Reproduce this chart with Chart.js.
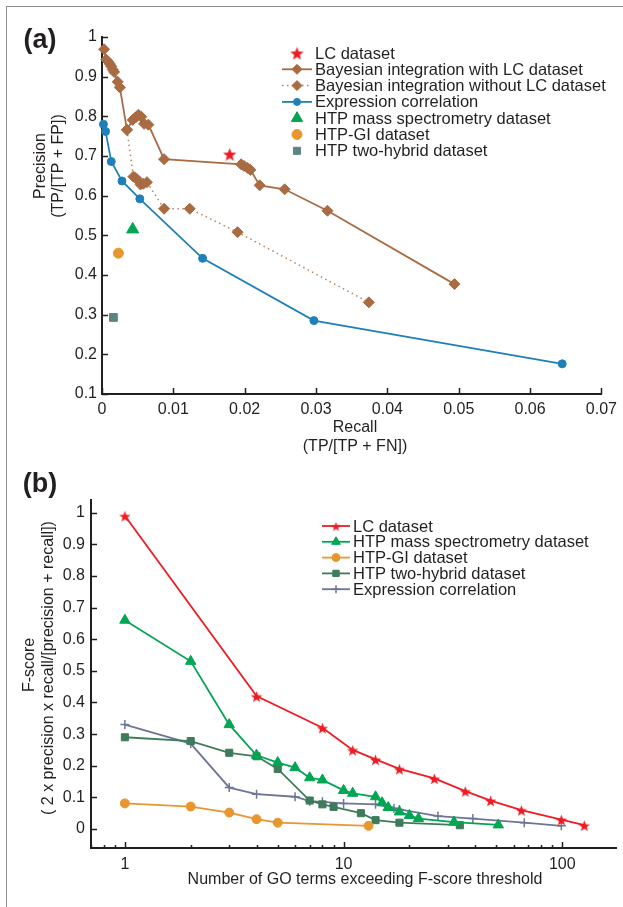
<!DOCTYPE html>
<html>
<head>
<meta charset="utf-8">
<script src="https://cdn.jsdelivr.net/npm/chart.js@4.4.1/dist/chart.umd.min.js"></script>
<style>
  html, body { margin: 0; padding: 0; background: #fff; }
  #wrap { position: relative; width: 623px; height: 907px; overflow: hidden; }
  #frame { position: absolute; left: 6px; top: 6px; width: 700px; height: 1000px;
           border-left: 1.5px solid #8c8c8c; border-top: 1.5px solid #8c8c8c; }
  canvas { position: absolute; left: 0; }
</style>
</head>
<body>
<div id="wrap">
  <div id="frame"></div>
  <canvas id="chartA" width="623" height="455" style="top:0"></canvas>
  <canvas id="chartB" width="623" height="452" style="top:455px"></canvas>
</div>
<script>
// ---- panel (a): precision vs recall ----
const recallTicks = [0, 0.01, 0.02, 0.03, 0.04, 0.05, 0.06, 0.07];
const precisionTicks = [0.1, 0.2, 0.3, 0.4, 0.5, 0.6, 0.7, 0.8, 0.9, 1];

const lcRecall = [0.0179];
const lcPrecision = [0.705];
const bayesLcRecall = [0.0003, 0.0006, 0.0009, 0.0011, 0.0013, 0.0015, 0.0017, 0.0022, 0.0025, 0.0035,
  0.0043, 0.0047, 0.0051, 0.0055, 0.0059, 0.0065, 0.0087, 0.0195, 0.0199, 0.0204, 0.0208, 0.0221,
  0.0256, 0.0316, 0.0494];
const bayesLcPrecision = [0.969, 0.943, 0.937, 0.932, 0.926, 0.918, 0.912, 0.887, 0.873, 0.766,
  0.791, 0.797, 0.804, 0.799, 0.781, 0.779, 0.692, 0.679, 0.675, 0.670, 0.665, 0.626,
  0.616, 0.562, 0.377];
const bayesNoLcRecall = [0.0035, 0.0044, 0.0047, 0.0051, 0.0054, 0.0058, 0.0063, 0.0087, 0.0123, 0.019, 0.0374];
const bayesNoLcPrecision = [0.766, 0.648, 0.645, 0.638, 0.628, 0.630, 0.634, 0.567, 0.567, 0.508, 0.331];
const exprRecall = [0.0002, 0.0005, 0.0013, 0.0028, 0.0053, 0.0141, 0.0297, 0.0645];
const exprPrecision = [0.780, 0.762, 0.686, 0.637, 0.592, 0.442, 0.285, 0.176];
const msRecall = [0.0043];
const msPrecision = [0.515];
const giRecall = [0.0023];
const giPrecision = [0.455];
const y2hRecall = [0.0016];
const y2hPrecision = [0.293];

// ---- panel (b): F-score vs number of GO terms ----
const goTermTicks = [1, 10, 100];
const fScoreTicks = [0, 0.1, 0.2, 0.3, 0.4, 0.5, 0.6, 0.7, 0.8, 0.9, 1];

const lcTerms = [1, 4, 8, 11, 14, 18, 26, 36, 47, 65, 99, 126];
const lcFscore = [0.99, 0.42, 0.32, 0.25, 0.22, 0.19, 0.16, 0.12, 0.09, 0.06, 0.03, 0.012];
const msTerms = [1, 2, 3, 4, 5, 6, 7, 8, 10, 11, 14, 15, 16, 18, 20, 22, 32, 51];
const msFscore = [0.66, 0.53, 0.33, 0.233, 0.21, 0.194, 0.162, 0.155, 0.122, 0.113, 0.102, 0.083,
  0.068, 0.054, 0.043, 0.033, 0.022, 0.013];
const giTerms = [1, 2, 3, 4, 5, 13];
const giFscore = [0.081, 0.071, 0.052, 0.031, 0.02, 0.01];
const y2hTerms = [1, 2, 3, 4, 5, 7, 8, 9, 12, 14, 18, 34];
const y2hFscore = [0.29, 0.278, 0.241, 0.23, 0.19, 0.09, 0.078, 0.07, 0.05, 0.028, 0.02, 0.012];
const exprTerms = [1, 2, 3, 4, 6, 7, 8, 10, 14, 16, 17, 18, 27, 39, 67, 99];
const exprFscore = [0.33, 0.27, 0.131, 0.11, 0.102, 0.088, 0.086, 0.081, 0.078, 0.07, 0.066, 0.062,
  0.041, 0.033, 0.02, 0.01];

const axisColor = '#231f20';
const brown = '#a86b42';
const blue = '#1f80b8';
const red = '#ed1c24';
const green = '#00a651';
const orange = '#e8962e';

Chart.defaults.font.family = '"Liberation Sans", Arial, Helvetica, sans-serif';
Chart.defaults.font.size = 16;
Chart.defaults.color = axisColor;

function pairs(xs, ys) {
  return xs.map((x, i) => ({ x: x, y: ys[i] }));
}

function fmt(v) {
  return String(+v.toFixed(3));
}

// filled five point star, used as a point image
function starImage(size, color) {
  const c = document.createElement('canvas');
  c.width = size;
  c.height = size;
  const g = c.getContext('2d');
  const R = size / 2 - 0.5, r = R * 0.42;
  g.beginPath();
  for (let i = 0; i < 10; i++) {
    const rad = i % 2 ? r : R;
    const a = -Math.PI / 2 + i * Math.PI / 5;
    g.lineTo(size / 2 + rad * Math.cos(a), size / 2 + 1 + rad * Math.sin(a));
  }
  g.closePath();
  g.fillStyle = color;
  g.fill();
  return c;
}

// ticks that point into the plot, like the original figure
const inwardTicks = {
  id: 'inwardTicks',
  afterDraw(chart) {
    const { ctx, chartArea: a, scales } = chart;
    ctx.save();
    ctx.strokeStyle = axisColor;
    ctx.lineWidth = 1.5;
    ctx.beginPath();
    scales.x.ticks.forEach(t => {
      const px = Math.round(scales.x.getPixelForValue(t.value)) + 0.5;
      if (px < a.left - 1 || px > a.right + 1) return;
      const len = t.minor ? 3 : 6;
      ctx.moveTo(px, a.bottom);
      ctx.lineTo(px, a.bottom - len);
    });
    scales.y.ticks.forEach(t => {
      const py = Math.round(scales.y.getPixelForValue(t.value)) + 0.5;
      ctx.moveTo(a.left, py);
      ctx.lineTo(a.left + 6, py);
    });
    ctx.stroke();
    ctx.restore();
  }
};

// free text: panel letters and axis titles
const panelText = {
  id: 'panelText',
  afterDraw(chart, args, opts) {
    const ctx = chart.ctx;
    (opts.items || []).forEach(it => {
      ctx.save();
      ctx.font = it.font || '16px "Liberation Sans", Arial, sans-serif';
      ctx.fillStyle = axisColor;
      ctx.textAlign = 'center';
      ctx.textBaseline = 'middle';
      ctx.translate(it.x, it.y);
      if (it.rotate) ctx.rotate(-Math.PI / 2);
      ctx.fillText(it.text, 0, 0);
      ctx.restore();
    });
  }
};

// legend with a short line and the marker, drawn inside the plot
const lineLegend = {
  id: 'lineLegend',
  afterDraw(chart, args, opts) {
    const ctx = chart.ctx;
    chart.data.datasets.forEach((ds, i) => {
      const y = opts.y + i * opts.step;
      ctx.save();
      if (ds.showLine) {
        ctx.strokeStyle = ds.borderColor;
        ctx.lineWidth = ds.borderWidth;
        ctx.setLineDash(ds.borderDash || []);
        ctx.beginPath();
        ctx.moveTo(opts.x0, y);
        ctx.lineTo(opts.x1, y);
        ctx.stroke();
        ctx.setLineDash([]);
      }
      const mx = (opts.x0 + opts.x1) / 2;
      const style = ds.legendPointStyle || ds.pointStyle;
      if (style instanceof HTMLCanvasElement) {
        ctx.drawImage(style, mx - style.width / 2, y - style.height / 2);
      } else {
        ctx.fillStyle = ds.pointBackgroundColor;
        ctx.strokeStyle = ds.pointBorderColor;
        ctx.lineWidth = ds.pointBorderWidth || 1;
        Chart.helpers.drawPoint(ctx, {
          pointStyle: style,
          radius: ds.legendRadius || ds.pointRadius,
          rotation: 0,
          borderWidth: ds.pointBorderWidth || 1
        }, mx, y);
      }
      ctx.fillStyle = axisColor;
      ctx.font = opts.font;
      ctx.textAlign = 'left';
      ctx.textBaseline = 'middle';
      ctx.fillText(ds.label, opts.x1 + 3, y + 1);
      ctx.restore();
    });
  }
};

function series(label, data, color, style, radius, extra) {
  return Object.assign({
    label: label,
    data: data,
    borderColor: color,
    backgroundColor: color,
    pointBackgroundColor: color,
    pointBorderColor: color,
    pointBorderWidth: 1,
    pointStyle: style,
    pointRadius: radius,
    borderWidth: 1.8,
    showLine: true,
    clip: false
  }, extra || {});
}

function axisOpts(extra) {
  return Object.assign({
    grid: { display: false, drawTicks: false },
    border: { display: true, color: axisColor, width: 2 },
  }, extra);
}

// ---- chart (a) ----
new Chart(document.getElementById('chartA'), {
  type: 'scatter',
  data: {
    datasets: [
      series('LC dataset', pairs(lcRecall, lcPrecision), red, starImage(15, red), 7,
        { showLine: false }),
      series('Bayesian integration with LC dataset', pairs(bayesLcRecall, bayesLcPrecision), brown, 'rectRot', 5.5,
        { legendRadius: 5 }),
      series('Bayesian integration without LC dataset', pairs(bayesNoLcRecall, bayesNoLcPrecision), brown, 'rectRot', 5.5,
        { borderDash: [1.5, 3.5], borderWidth: 1.5, borderColor: '#b98458', legendRadius: 5 }),
      series('Expression correlation', pairs(exprRecall, exprPrecision), blue, 'circle', 4,
        { legendRadius: 3.5 }),
      series('HTP mass spectrometry dataset', pairs(msRecall, msPrecision), green, 'triangle', 7,
        { showLine: false, legendRadius: 6.5 }),
      series('HTP-GI dataset', pairs(giRecall, giPrecision), orange, 'circle', 5,
        { showLine: false }),
      series('HTP two-hybrid dataset', pairs(y2hRecall, y2hPrecision), '#5b8482', 'rect', 5.5,
        { showLine: false, legendRadius: 5 })
    ]
  },
  options: {
    responsive: false,
    animation: false,
    devicePixelRatio: 1,
    layout: { padding: { left: 42, right: 18, top: 37, bottom: 21 } },
    plugins: {
      legend: { display: false },
      tooltip: { enabled: false },
      lineLegend: { x0: 282, x1: 312, y: 53, step: 16.3, font: '16.5px "Liberation Sans", Arial, sans-serif' },
      panelText: {
        items: [
          { text: '(a)', x: 40, y: 41, font: 'bold 27px "Liberation Sans", Arial, sans-serif' },
          { text: 'Precision', x: 41, y: 166, rotate: true },
          { text: '(TP/[TP + FP])', x: 59, y: 166, rotate: true },
          { text: 'Recall', x: 355, y: 428 },
          { text: '(TP/[TP + FN])', x: 355, y: 447 }
        ]
      }
    },
    scales: {
      x: axisOpts({
        type: 'linear', min: 0, max: 0.07,
        afterBuildTicks: s => { s.ticks = recallTicks.map(v => ({ value: v })); },
        afterFit: s => { s.height = 40; },
        ticks: { padding: 6, maxRotation: 0, autoSkip: false, callback: v => fmt(v) }
      }),
      y: axisOpts({
        type: 'linear', min: 0.1, max: 1,
        afterBuildTicks: s => { s.ticks = precisionTicks.map(v => ({ value: v })); },
        afterFit: s => { s.width = 60; },
        ticks: { padding: 5, autoSkip: false, callback: v => fmt(v) }
      })
    }
  },
  plugins: [inwardTicks, panelText, lineLegend]
});

// ---- chart (b) ----
new Chart(document.getElementById('chartB'), {
  type: 'scatter',
  data: {
    datasets: [
      series('LC dataset', pairs(lcTerms, lcFscore), red, starImage(13, red), 6,
        { legendPointStyle: starImage(11, red) }),
      series('HTP mass spectrometry dataset', pairs(msTerms, msFscore), green, 'triangle', 6,
        { legendRadius: 5 }),
      series('HTP-GI dataset', pairs(giTerms, giFscore), orange, 'circle', 4.5,
        { legendRadius: 4 }),
      series('HTP two-hybrid dataset', pairs(y2hTerms, y2hFscore), '#3e7b5a', 'rect', 5,
        { legendRadius: 4.5 }),
      series('Expression correlation', pairs(exprTerms, exprFscore), '#6d7597', 'cross', 4.5,
        { pointBorderWidth: 1.5, legendRadius: 4 })
    ]
  },
  options: {
    responsive: false,
    animation: false,
    devicePixelRatio: 1,
    layout: { padding: { left: 31, right: 5, top: 45, bottom: 19 } },
    plugins: {
      legend: { display: false },
      tooltip: { enabled: false },
      lineLegend: { x0: 322, x1: 350, y: 71, step: 15.8, font: '16.5px "Liberation Sans", Arial, sans-serif' },
      panelText: {
        items: [
          { text: '(b)', x: 40, y: 30, font: 'bold 27px "Liberation Sans", Arial, sans-serif' },
          { text: 'F-score', x: 30, y: 210, rotate: true },
          { text: '( 2 x precision x recall/[precision + recall])', x: 49, y: 213, rotate: true },
          { text: 'Number of GO terms exceeding F-score threshold', x: 365, y: 425 }
        ]
      }
    },
    scales: {
      x: axisOpts({
        type: 'logarithmic', min: 0.746, max: 176,
        afterBuildTicks: s => {
          const list = [];
          [0.1, 1, 10, 100].forEach(d => {
            for (let k = 1; k <= 9; k++) {
              const v = k * d;
              if (v >= s.min && v <= s.max) list.push({ value: v, minor: k !== 1 });
            }
          });
          s.ticks = list;
        },
        afterFit: s => { s.height = 40; },
        ticks: {
          padding: 7, maxRotation: 0, autoSkip: false,
          callback: v => goTermTicks.includes(v) ? String(v) : ''
        }
      }),
      y: axisOpts({
        type: 'linear', min: -0.06, max: 1.04,
        afterBuildTicks: s => { s.ticks = fScoreTicks.map(v => ({ value: v })); },
        afterFit: s => { s.width = 60; },
        ticks: { padding: 6, autoSkip: false, callback: v => fmt(v) }
      })
    }
  },
  plugins: [inwardTicks, panelText, lineLegend]
});
</script>
</body>
</html>
